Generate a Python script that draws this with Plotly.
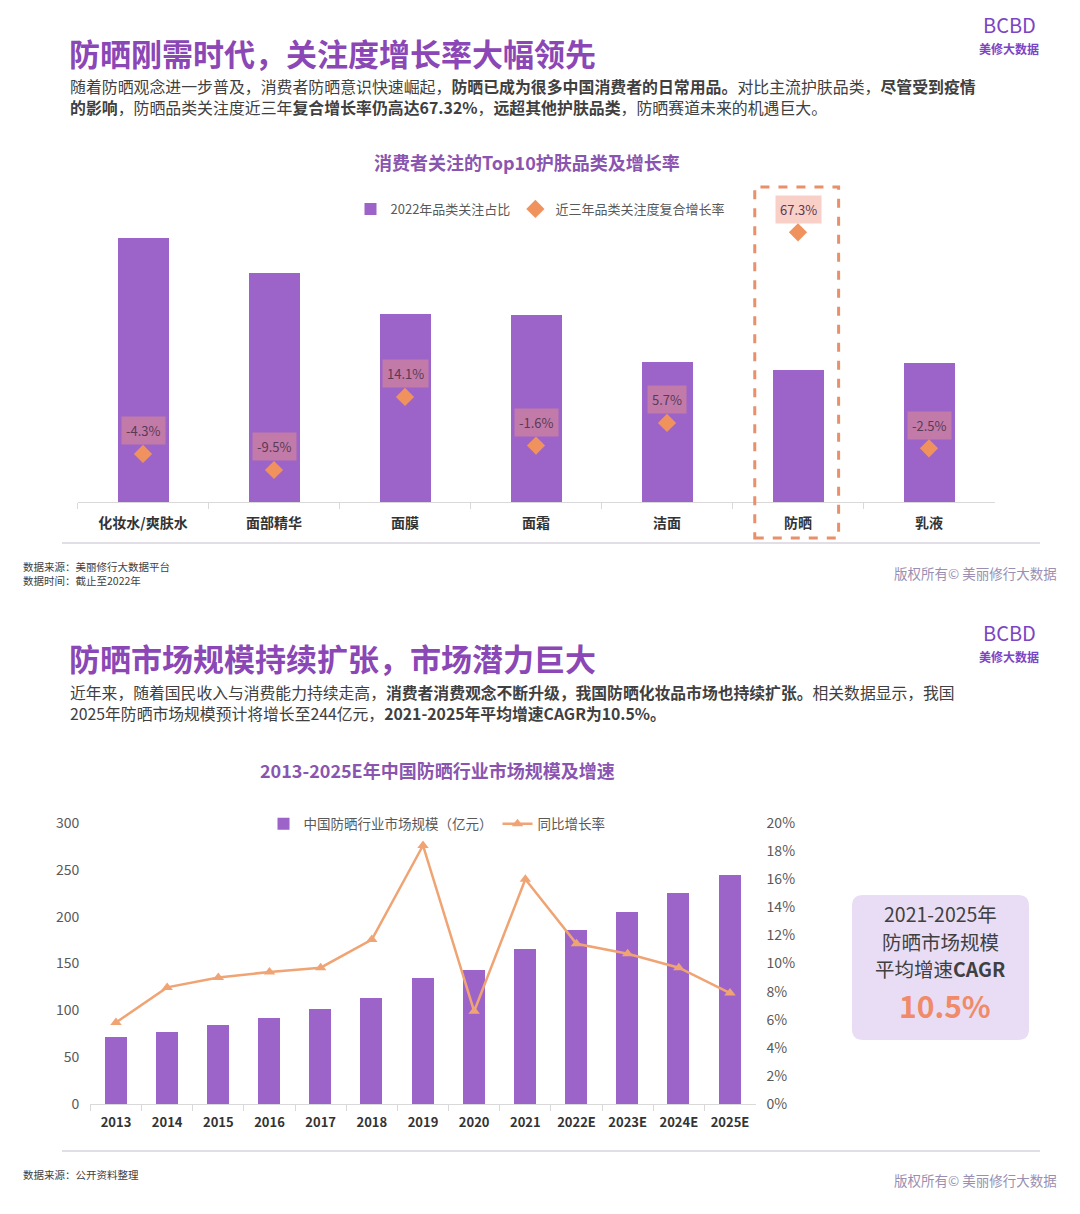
import plotly.graph_objects as go

W, H = 1080, 1214
FONT = "Noto Sans CJK SC"
PURPLE = "#9c64c8"
TITLE_PURPLE = "#8a47b5"
ORANGE = "#f0925e"

# ---------------- data: top chart ----------------
categories = ["化妆水/爽肤水", "面部精华", "面膜", "面霜", "洁面", "防晒", "乳液"]
share_2022 = [13.2, 11.45, 9.4, 9.35, 7.0, 6.6, 6.95]          # 2022年品类关注占比 (estimated)
cagr_3y = [-4.3, -9.5, 14.1, -1.6, 5.7, 67.3, -2.5]             # 近三年品类关注度复合增长率 (%)
cagr_labels = ["-4.3%", "-9.5%", "14.1%", "-1.6%", "5.7%", "67.3%", "-2.5%"]

# ---------------- data: bottom chart ----------------
years = ["2013", "2014", "2015", "2016", "2017", "2018", "2019", "2020", "2021",
         "2022E", "2023E", "2024E", "2025E"]
market_size = [72, 77, 84, 92, 101, 113, 134, 143, 166, 186, 205, 225, 244]   # 亿元
yoy_growth = [0.058, 0.083, 0.090, 0.094, 0.097, 0.117, 0.184, 0.066, 0.160,
              0.114, 0.107, 0.097, 0.079]


def X(px):
    return px / W


def Y(py):
    return 1 - py / H


fig = go.Figure()

# top chart traces
fig.add_trace(go.Bar(
    x=categories, y=share_2022, name="2022年品类关注占比",
    marker=dict(color=PURPLE, line=dict(width=0)), width=0.39, xaxis="x", yaxis="y",
    legend="legend", hoverinfo="skip"))
fig.add_trace(go.Scatter(
    x=categories, y=cagr_3y, name="近三年品类关注度复合增长率", mode="markers",
    marker=dict(symbol="diamond", size=14, color=ORANGE),
    xaxis="x", yaxis="y2", legend="legend", hoverinfo="skip"))

# bottom chart traces
fig.add_trace(go.Bar(
    x=years, y=market_size, name="中国防晒行业市场规模（亿元）",
    marker=dict(color=PURPLE, line=dict(width=0)), width=0.43, xaxis="x2", yaxis="y3",
    legend="legend2", hoverinfo="skip"))
fig.add_trace(go.Scatter(
    x=years, y=yoy_growth, name="同比增长率", mode="lines+markers",
    line=dict(color="#f0a474", width=2.5),
    marker=dict(symbol="triangle-up", size=10, color="#f0a474"),
    xaxis="x2", yaxis="y4", legend="legend2", hoverinfo="skip"))

annotations = []


def txt(text, x, y, size, color="#404040", anchor="left", bold=False, yanchor="middle"):
    annotations.append(dict(
        text=text, x=X(x), y=Y(y), xref="paper", yref="paper",
        xanchor=anchor, yanchor=yanchor, showarrow=False, align=anchor,
        borderpad=0,
        font=dict(family=FONT, size=size, color=color,
                  weight="bold" if bold else "normal")))


# ---------- headers ----------
txt("防晒刚需时代，关注度增长率大幅领先", 68, 52, 31, TITLE_PURPLE, bold=True)
txt("随着防晒观念进一步普及，消费者防晒意识快速崛起，<b>防晒已成为很多中国消费者的日常用品。</b>对比主流护肤品类，<b>尽管受到疫情</b><br>"
    "<b>的影响</b>，防晒品类关注度近三年<b>复合增长率仍高达67.32%</b>，<b>远超其他护肤品类</b>，防晒赛道未来的机遇巨大。",
    69, 96.5, 15.9, "#404040")

txt("防晒市场规模持续扩张，市场潜力巨大", 68, 657.5, 31, TITLE_PURPLE, bold=True)
txt("近年来，随着国民收入与消费能力持续走高，<b>消费者消费观念不断升级，我国防晒化妆品市场也持续扩张。</b>相关数据显示，我国",
    69, 692, 15.8, "#404040")
txt("2025年防晒市场规模预计将增长至244亿元，<b>2021-2025年平均增速CAGR为10.5%。</b>",
    69, 713.5, 15.8, "#404040")

# logos
for ly in (25, 632):
    txt("BCBD", 1009, ly, 20, "#7a45c4", anchor="center")
    txt("美修大数据", 1009, ly + 24, 12, "#7a45c4", anchor="center", bold=True)

# chart titles
txt("消费者关注的Top10护肤品类及增长率", 527, 162, 18, "#8a55b0", anchor="center", bold=True)
txt("2013-2025E年中国防晒行业市场规模及增速", 437, 770, 18, "#8a55b0", anchor="center", bold=True)

# footers
txt("数据来源：美丽修行大数据平台<br>数据时间：截止至2022年", 22, 573.5, 10.5, "#404040")
txt("版权所有© 美丽修行大数据", 1058, 573, 13.5, "#9a8fb2", anchor="right")
txt("数据来源：公开资料整理", 22, 1174, 10.5, "#404040")
txt("版权所有© 美丽修行大数据", 1058, 1180, 13.5, "#9a8fb2", anchor="right")

# CAGR box texts
txt("2021-2025年", 940, 913.5, 19.5, "#404040", anchor="center")
txt("防晒市场规模", 940, 941, 19.5, "#404040", anchor="center")
txt("平均增速<b>CAGR</b>", 940, 968.5, 19.5, "#404040", anchor="center")
txt("10.5%", 945, 1005, 30, "#f08a68", anchor="center", bold=True)

# value labels over diamonds
for c, v, lab in zip(categories, cagr_3y, cagr_labels):
    annotations.append(dict(
        text=lab, x=c, y=v, xref="x", yref="y2", yshift=23,
        showarrow=False, font=dict(family=FONT, size=13, color="#5a3a55"),
        bgcolor="rgba(242,150,130,0.45)", borderpad=4))

# ---------- shapes ----------
shapes = []
# separators
shapes.append(dict(type="line", xref="paper", yref="paper", x0=X(62), x1=X(1040),
                   y0=Y(543), y1=Y(543), line=dict(color="#d9d3dc", width=1.5)))
shapes.append(dict(type="line", xref="paper", yref="paper", x0=X(62), x1=X(1040),
                   y0=Y(1151), y1=Y(1151), line=dict(color="#d9d3dc", width=1.5)))
# dashed highlight around 防晒
hi = categories.index("防晒")
shapes.append(dict(type="rect", xref="x", yref="paper", x0=hi - 0.33, x1=hi + 0.31,
                   y0=Y(538), y1=Y(187), line=dict(color="#e8906a", width=3, dash="dash"),
                   fillcolor="rgba(0,0,0,0)"))
# rounded box
x0, x1, y0, y1, r = 852, 1029, 895, 1040, 11
path = (f"M {X(x0 + r)},{Y(y0)} L {X(x1 - r)},{Y(y0)} Q {X(x1)},{Y(y0)} {X(x1)},{Y(y0 + r)} "
        f"L {X(x1)},{Y(y1 - r)} Q {X(x1)},{Y(y1)} {X(x1 - r)},{Y(y1)} "
        f"L {X(x0 + r)},{Y(y1)} Q {X(x0)},{Y(y1)} {X(x0)},{Y(y1 - r)} "
        f"L {X(x0)},{Y(y0 + r)} Q {X(x0)},{Y(y0)} {X(x0 + r)},{Y(y0)} Z")
shapes.append(dict(type="path", xref="paper", yref="paper", path=path,
                   fillcolor="#e9ddf5", line=dict(width=0), layer="below"))

tick_font = dict(family=FONT, size=14, color="#595959")

fig.update_layout(
    template="none",
    width=W, height=H, autosize=False,
    margin=dict(l=0, r=0, t=0, b=0, pad=0),
    paper_bgcolor="white", plot_bgcolor="rgba(0,0,0,0)",
    font=dict(family=FONT),
    showlegend=True,
    bargap=0,
    xaxis=dict(type="category", domain=[X(77.5), X(994.5)], anchor="y",
               range=[-0.5, len(categories) - 0.5],
               showline=True, linecolor="#d9d9d9", automargin=False,
               ticks="outside", tickson="boundaries", ticklen=6, tickcolor="#d9d9d9",
               ticklabelstandoff=8,
               tickfont=dict(family=FONT, size=14, color="#333333", weight="bold"),
               showgrid=False, zeroline=False),
    yaxis=dict(domain=[Y(502), Y(185)], range=[0, 15.85], visible=False, showgrid=False,
               automargin=False),
    yaxis2=dict(overlaying="y", range=[-19.85, 82.6], visible=False, showgrid=False,
                automargin=False),
    xaxis2=dict(type="category", domain=[X(90.4), X(755.6)], anchor="y3",
                range=[-0.5, len(years) - 0.5],
                showline=True, linecolor="#d9d9d9", automargin=False,
                ticks="outside", tickson="boundaries", ticklen=6, tickcolor="#d9d9d9",
                ticklabelstandoff=6,
                tickfont=dict(family=FONT, size=13, color="#333333", weight="bold"),
                showgrid=False, zeroline=False),
    yaxis3=dict(domain=[Y(1104), Y(823)], range=[0, 300], dtick=50, anchor="x2",
                showgrid=False, tickfont=tick_font, ticks="", ticklabelstandoff=10,
                zeroline=False, showline=False, automargin=False),
    yaxis4=dict(overlaying="y3", side="right", range=[0, 0.2], dtick=0.02, tickformat=".0%",
                anchor="x2", showgrid=False, tickfont=tick_font, ticks="", ticklabelstandoff=10,
                zeroline=False, showline=False, automargin=False),
    legend=dict(orientation="h", x=X(540), y=Y(209), xanchor="center", yanchor="middle",
                itemwidth=30,
                font=dict(family=FONT, size=13, color="#595959"), bgcolor="rgba(0,0,0,0)"),
    legend2=dict(orientation="h", x=X(437), y=Y(824), xanchor="center", yanchor="middle",
                 itemwidth=30,
                 font=dict(family=FONT, size=13.5, color="#595959"), bgcolor="rgba(0,0,0,0)"),
    annotations=annotations,
    shapes=shapes,
)

fig.write_html("out.html")
